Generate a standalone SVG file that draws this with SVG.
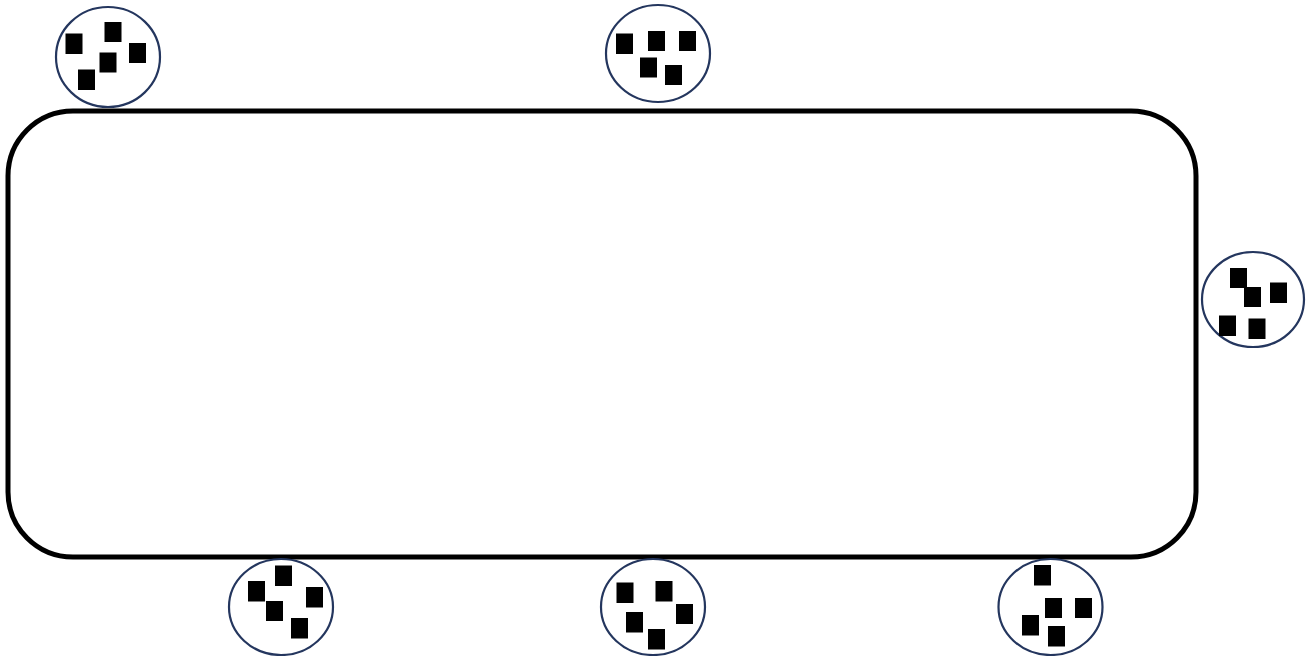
<svg xmlns="http://www.w3.org/2000/svg" width="1311" height="656" viewBox="0 0 1311 656">
<style>
.frame{fill:none;stroke:#000;stroke-width:5}
.pod{fill:#fff;stroke:#24365e;stroke-width:2.2}
.sq{fill:#000}
</style>
<rect width="1311" height="656" fill="#fff"/>
<g id="table"><rect class="frame" x="8" y="111" width="1188" height="446" rx="65" ry="65"/></g>
<g id="connectors"></g>
<g id="pod1">
<ellipse class="pod" cx="108" cy="57" rx="52" ry="50"/>
<rect class="sq" x="65.5" y="33.5" width="17" height="20.5"/>
<rect class="sq" x="104.5" y="22" width="17" height="20"/>
<rect class="sq" x="129" y="43" width="17" height="20"/>
<rect class="sq" x="99.5" y="52.5" width="17" height="20"/>
<rect class="sq" x="78" y="69.5" width="17" height="20.5"/>
</g>
<g id="pod2">
<ellipse class="pod" cx="658" cy="53.5" rx="52" ry="48.5"/>
<rect class="sq" x="616" y="33.5" width="17" height="20.5"/>
<rect class="sq" x="648" y="31" width="17" height="20"/>
<rect class="sq" x="679" y="31" width="17" height="20"/>
<rect class="sq" x="640" y="57.5" width="17" height="20"/>
<rect class="sq" x="665" y="65" width="17" height="20"/>
</g>
<g id="pod3">
<ellipse class="pod" cx="1253" cy="299.5" rx="51" ry="47.5"/>
<rect class="sq" x="1230" y="268" width="17" height="20"/>
<rect class="sq" x="1244" y="287" width="17" height="20"/>
<rect class="sq" x="1270" y="282.5" width="17" height="20.5"/>
<rect class="sq" x="1219" y="315.5" width="17" height="20.5"/>
<rect class="sq" x="1248.5" y="318.5" width="17" height="20.5"/>
</g>
<g id="pod4">
<ellipse class="pod" cx="281" cy="607" rx="52" ry="48"/>
<rect class="sq" x="275" y="565.5" width="17" height="20.5"/>
<rect class="sq" x="248" y="581" width="17" height="20.5"/>
<rect class="sq" x="306" y="587" width="17" height="20.5"/>
<rect class="sq" x="266" y="601" width="17" height="20"/>
<rect class="sq" x="291" y="618" width="17" height="20.5"/>
</g>
<g id="pod5">
<ellipse class="pod" cx="653" cy="607" rx="52" ry="48"/>
<rect class="sq" x="616.5" y="582.5" width="17" height="20.5"/>
<rect class="sq" x="655.5" y="581" width="17" height="20.5"/>
<rect class="sq" x="676" y="604" width="17" height="20"/>
<rect class="sq" x="626" y="612" width="17" height="20.5"/>
<rect class="sq" x="648" y="629" width="17" height="20.5"/>
</g>
<g id="pod6">
<ellipse class="pod" cx="1050.5" cy="607" rx="52" ry="48"/>
<rect class="sq" x="1034" y="565" width="17" height="20.5"/>
<rect class="sq" x="1045" y="598" width="17" height="20"/>
<rect class="sq" x="1075" y="598" width="17" height="20"/>
<rect class="sq" x="1022" y="615" width="17" height="20.5"/>
<rect class="sq" x="1048" y="626" width="17" height="20.5"/>
</g>
</svg>
